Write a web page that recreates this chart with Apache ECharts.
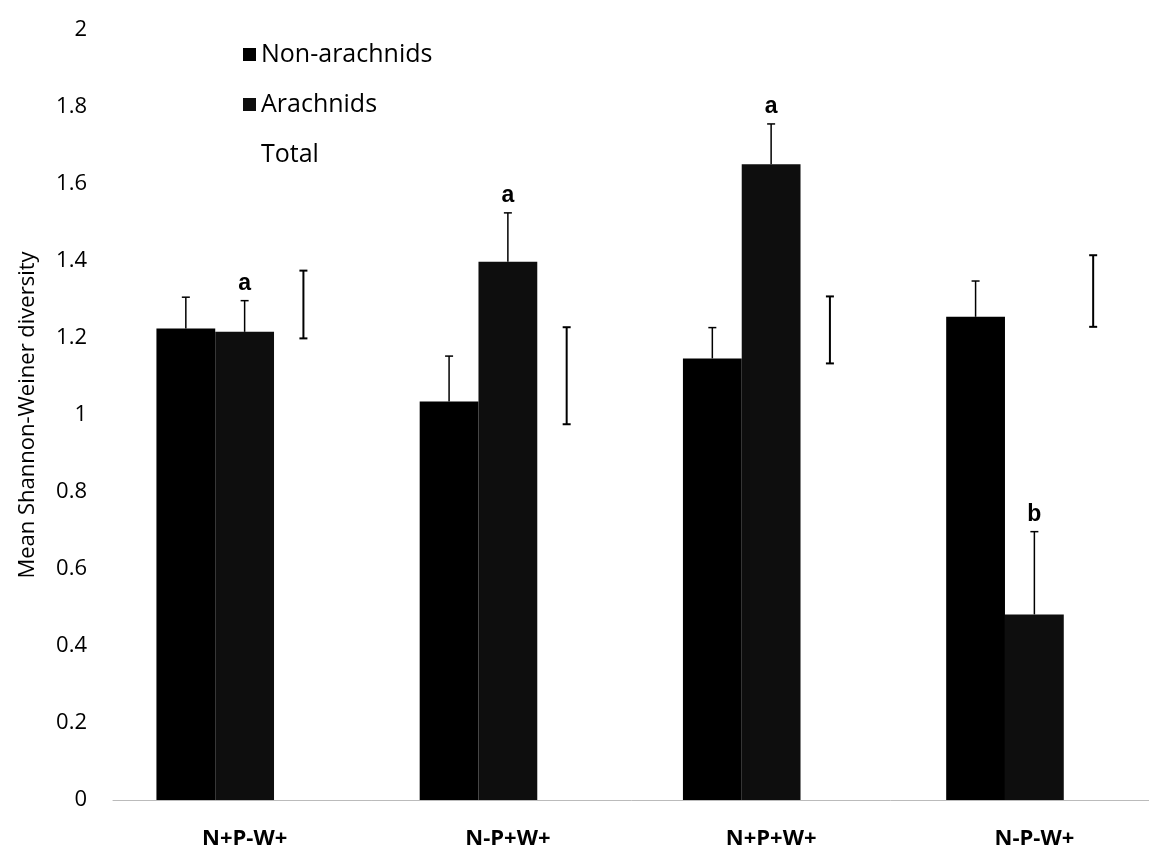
<!DOCTYPE html>
<html><head><meta charset="utf-8">
<script src="https://cdn.jsdelivr.net/npm/echarts@6/dist/echarts.min.js"></script>
<style>html,body{margin:0;padding:0;background:#fff}#c{width:1149px;height:853px}</style>
</head><body><div id="c"></div>
<script>
var categories = ['N+P-W+', 'N-P+W+', 'N+P+W+', 'N-P-W+'];
var nonArachnids = [1.225, 1.035, 1.147, 1.255];
var nonArachnidsErr = [0.081, 0.118, 0.080, 0.093];
var arachnids = [1.216, 1.398, 1.651, 0.482];
var arachnidsErr = [0.081, 0.127, 0.105, 0.215];
var total = [1.287, 1.102, 1.221, 1.322];
var totalErr = [0.088, 0.126, 0.087, 0.093];
var letters = ['a', 'a', 'a', 'b'];
var yTicks = [0, 0.2, 0.4, 0.6, 0.8, 1, 1.2, 1.4, 1.6, 1.8, 2];

var FONT = '"Open Sans"';
var GAP = 0.33;

function errSeries(vals, errs, slot, both, lw, withLetters) {
  return {
    type: 'custom',
    silent: true,
    z: 5,
    data: vals.map(function (v, i) { return [i, v, errs[i]]; }),
    renderItem: function (params, api) {
      var idx = api.value(0);
      var v = api.value(1), e = api.value(2);
      var band = api.size([1, 0])[0];
      var bw = band * (1 - GAP) / 3;
      var c = api.coord([idx, v]);
      var x = c[0] + (slot - 1) * bw;
      var top = api.coord([idx, v + e])[1];
      var bot = both ? api.coord([idx, v - e])[1] : c[1];
      var cap = 4;
      var st = { stroke: '#000', lineWidth: lw };
      var ch = [
        { type: 'line', shape: { x1: x, y1: top, x2: x, y2: bot }, style: st },
        { type: 'line', shape: { x1: x - cap, y1: top, x2: x + cap, y2: top }, style: st }
      ];
      if (both) ch.push({ type: 'line', shape: { x1: x - cap, y1: bot, x2: x + cap, y2: bot }, style: st });
      if (withLetters) {
        ch.push({ type: 'text', style: { x: x, y: top - 17, text: letters[params.dataIndex], fill: '#000',
          font: 'bold 23px "Liberation Sans", Arial, sans-serif', textAlign: 'center', textVerticalAlign: 'middle' } });
      }
      return { type: 'group', children: ch };
    }
  };
}

var chart = echarts.init(document.getElementById('c'));
chart.setOption({
  animation: false,
  backgroundColor: '#fff',
  grid: { left: 113, width: 1053, top: 30, bottom: 53, containLabel: false, outerBoundsMode: 'none' },
  legend: {
    orient: 'vertical', left: 238, top: 37, itemGap: 25,
    itemWidth: 13, itemHeight: 13, icon: 'rect',
    textStyle: { fontFamily: FONT, fontSize: 25, color: '#000' },
    data: ['Non-arachnids', 'Arachnids', 'Total']
  },
  xAxis: {
    type: 'category', data: categories,
    axisLine: { lineStyle: { color: '#bbb', width: 1 } },
    axisTick: { show: false },
    axisLabel: { fontFamily: FONT, fontWeight: 'bold', fontSize: 22, color: '#000', margin: 28 }
  },
  yAxis: {
    type: 'value', min: 0, max: 2, interval: 0.2,
    name: 'Mean Shannon-Weiner diversity', nameLocation: 'middle', nameGap: 74,
    nameTextStyle: { fontFamily: FONT, fontSize: 22, color: '#000' },
    axisLine: { show: false },
    axisTick: { show: false },
    splitLine: { show: false },
    axisLabel: { fontFamily: FONT, fontSize: 22, color: '#000', margin: 26,
      formatter: function (v) { return String(Math.round(v * 10) / 10); } }
  },
  series: [
    { name: 'Non-arachnids', type: 'bar', data: nonArachnids, barGap: '0%', barCategoryGap: '33%',
      itemStyle: { color: '#000' } },
    { name: 'Arachnids', type: 'bar', data: arachnids, itemStyle: { color: '#0e0e0e' } },
    { name: 'Total', type: 'bar', data: total, itemStyle: { color: 'rgba(255,255,255,0)' } },
    errSeries(nonArachnids, nonArachnidsErr, 0, false, 1.5, false),
    errSeries(arachnids, arachnidsErr, 1, false, 1.5, true),
    errSeries(total, totalErr, 2, true, 2, false)
  ]
});
</script></body></html>
